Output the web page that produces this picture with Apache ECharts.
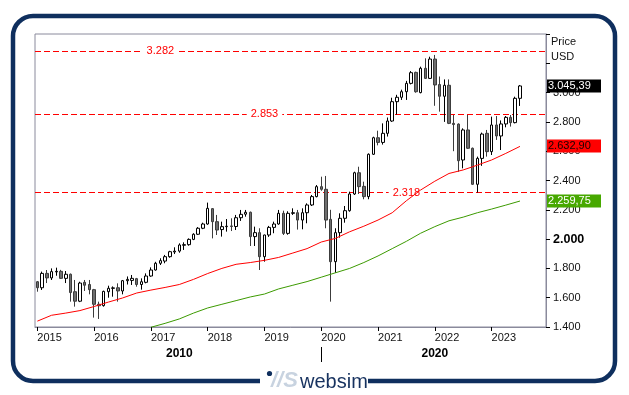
<!DOCTYPE html>
<html><head><meta charset="utf-8">
<script src="https://cdn.jsdelivr.net/npm/echarts@6/dist/echarts.min.js"></script>
<style>html,body{margin:0;padding:0;background:#fff}#c{width:629px;height:395px}</style>
</head><body><div id="c"></div>
<script>
// ---- categories (monthly; last five are empty space on the right) ----
const months = [
 '2015-01','2015-02','2015-03','2015-04','2015-05','2015-06','2015-07','2015-08','2015-09','2015-10','2015-11','2015-12',
 '2016-01','2016-02','2016-03','2016-04','2016-05','2016-06','2016-07','2016-08','2016-09','2016-10','2016-11','2016-12',
 '2017-01','2017-02','2017-03','2017-04','2017-05','2017-06','2017-07','2017-08','2017-09','2017-10','2017-11','2017-12',
 '2018-01','2018-02','2018-03','2018-04','2018-05','2018-06','2018-07','2018-08','2018-09','2018-10','2018-11','2018-12',
 '2019-01','2019-02','2019-03','2019-04','2019-05','2019-06','2019-07','2019-08','2019-09','2019-10','2019-11','2019-12',
 '2020-01','2020-02','2020-03','2020-04','2020-05','2020-06','2020-07','2020-08','2020-09','2020-10','2020-11','2020-12',
 '2021-01','2021-02','2021-03','2021-04','2021-05','2021-06','2021-07','2021-08','2021-09','2021-10','2021-11','2021-12',
 '2022-01','2022-02','2022-03','2022-04','2022-05','2022-06','2022-07','2022-08','2022-09','2022-10','2022-11','2022-12',
 '2023-01','2023-02','2023-03','2023-04','2023-05','2023-06','2023-07','2023-08','2023-09','2023-10','2023-11','2023-12'
];

// ---- monthly candles (price, USD) ----
const open = [
 1709,1668,1766,1735,1776,1780,1732,1760,1641,1576,1705,1690,
 1655,1555,1546,1641,1664,1668,1646,1716,1718,1730,1690,1705,
 1748,1789,1835,1850,1880,1912,1918,1958,1962,1998,2033,2074,
 2103,2208,2119,2065,2085,2090,2086,2146,2170,2183,2017,2044,
 1880,2028,2080,2103,2176,2039,2176,2180,2130,2180,2233,2290,
 2358,2340,2135,1846,2044,2142,2194,2308,2453,2360,2290,2579,
 2692,2660,2722,2806,2938,2968,3006,3063,3138,3000,3166,3097,
 3229,3055,2975,3050,2790,2785,2540,2745,2620,2374,2551,2722,
 2597,2779,2704,2786,2831,2795,2961
];
const close = [
 1668,1766,1735,1778,1780,1732,1760,1635,1576,1700,1685,1655,
 1555,1545,1643,1664,1667,1646,1716,1725,1732,1690,1709,1748,
 1789,1835,1853,1880,1914,1918,1960,1962,1998,2033,2074,2103,
 2210,2119,2062,2085,2088,2086,2146,2169,2183,2017,2044,1880,
 2028,2080,2103,2176,2039,2176,2180,2130,2180,2233,2290,2358,
 2340,2130,1846,2044,2142,2194,2308,2453,2358,2290,2579,2692,
 2660,2722,2806,2938,2968,3006,3063,3136,3006,3166,3097,3229,
 3052,2975,3050,2790,2782,2535,2745,2620,2374,2551,2717,2597,
 2779,2704,2786,2831,2795,2961,3045.39
];
const low = [
 1641,1653,1700,1721,1750,1728,1700,1573,1539,1570,1646,1623,
 1464,1455,1539,1600,1607,1573,1623,1690,1687,1675,1655,1698,
 1743,1785,1823,1835,1873,1898,1907,1926,1955,1993,2028,2068,
 2098,2005,2028,2017,2051,2055,2062,2124,2153,1953,1953,1789,
 1846,2015,2040,2098,2028,2030,2165,2065,2067,2108,2226,2285,
 2330,2074,1573,1770,2010,2112,2187,2301,2308,2272,2272,2574,
 2640,2645,2700,2800,2850,2950,2950,3056,2999,2995,3093,3093,
 2910,2870,2800,2785,2600,2460,2483,2615,2370,2318,2500,2563,
 2574,2677,2608,2763,2768,2790,2909
];
const high = [
 1714,1778,1789,1800,1805,1790,1782,1765,1721,1709,1721,1721,
 1660,1573,1648,1682,1677,1698,1721,1745,1755,1735,1732,1766,
 1807,1845,1869,1892,1920,1944,1971,1978,2005,2040,2082,2112,
 2249,2212,2165,2119,2137,2142,2165,2199,2199,2188,2085,2074,
 2030,2090,2119,2199,2194,2190,2210,2199,2210,2244,2301,2369,
 2426,2431,2200,2074,2176,2226,2324,2460,2494,2392,2585,2699,
 2740,2790,2830,2965,2985,3020,3080,3147,3143,3177,3234,3245,
 3257,3110,3090,3090,2847,2790,2756,2847,2625,2563,2727,2745,
 2836,2840,2810,2840,2847,2972,3052
];

// ---- moving averages ----
const redMaDates = ['2015-01','2015-04','2015-07','2015-10','2016-01','2016-04','2016-07','2016-10','2017-01','2017-04','2017-07','2017-10',
 '2018-01','2018-04','2018-07','2018-10','2019-01','2019-04','2019-07','2019-10','2020-01','2020-04','2020-07','2020-10',
 '2021-01','2021-04','2021-07','2021-10','2022-01','2022-04','2022-07','2022-10','2023-01','2023-04','2023-07'];
const redMaValues = [1440,1480,1495,1512,1540,1570,1598,1632,1652,1670,1690,1725,
 1765,1800,1828,1840,1855,1875,1905,1935,1980,2005,2050,2088,
 2130,2180,2262,2335,2395,2448,2472,2505,2540,2585,2632.90];
const greenMaDates = ['2017-01','2017-04','2017-07','2017-10','2018-01','2018-04','2018-07','2018-10','2019-01','2019-04','2019-07','2019-10',
 '2020-01','2020-04','2020-07','2020-10','2021-01','2021-04','2021-07','2021-10','2022-01','2022-04','2022-07','2022-10','2023-01','2023-04','2023-07'];
const greenMaValues = [1398,1425,1455,1495,1530,1555,1580,1605,1625,1660,1685,1710,
 1740,1770,1800,1840,1885,1935,1985,2040,2085,2125,2150,2180,2205,2232,2259.75];

// ---- horizontal levels ----
const levelValues = [3282, 2853, 2318];
const levelLabelMonths = ['2017-03', '2019-01', '2021-07'];

// ---- y axis ----
const yMin = 1400, yMax = 3400, yStep = 200;
const yHiddenFrom = 3200;
const yBoldTick = 2000;

function fmt(v, dec) {
  const s = v.toFixed(dec);
  const parts = s.split('.');
  const int = parts[0].replace(/\B(?=(\d{3})+(?!\d))/g, '.');
  return parts.length > 1 ? int + ',' + parts[1] : int;
}

const FONT = 'Liberation Sans, Arial, sans-serif';
const NAVY = '#0f2f5e';

// decade grouping for 2nd row of x labels
const decadeSpans = [];
months.forEach((m, i) => {
  const d = Math.floor(parseInt(m.slice(0, 4)) / 10) * 10;
  const last = decadeSpans[decadeSpans.length - 1];
  if (last && last.d === d) last.end = i; else decadeSpans.push({ d, start: i, end: i });
});
const decadeLabelIdx = {};
decadeSpans.forEach(s => { decadeLabelIdx[Math.round((s.start + s.end) / 2)] = String(s.d); });
const decadeTickIdx = decadeSpans.filter(s => s.start > 0).map(s => s.start);

const candleData = open.map((o, i) => [o, close[i], low[i], high[i]]);

const chart = echarts.init(document.getElementById('c'), null, { renderer: 'canvas' });
chart.setOption({
  animation: false,
  backgroundColor: '#fff',
  textStyle: { fontFamily: FONT },
  grid: { left: 35, top: 34, width: 511, height: 293, show: true, borderColor: '#8a8a9c', borderWidth: 1 },
  xAxis: [{
    type: 'category', data: months, boundaryGap: true, gridIndex: 0,
    axisLine: { show: true, lineStyle: { color: '#8a8a9c' } },
    axisTick: { show: true, alignWithLabel: true, length: 4, interval: i => i % 12 === 0, lineStyle: { color: '#000' } },
    axisLabel: { interval: i => i % 12 === 0, formatter: v => v.slice(0, 4), align: 'left', fontSize: 11, color: '#111', margin: 5, fontFamily: FONT },
    splitLine: { show: false }
  }, {
    type: 'category', data: months, boundaryGap: true, gridIndex: 0, position: 'bottom', offset: 20,
    axisLine: { show: false },
    axisTick: { show: true, alignWithLabel: true, length: 15, interval: i => decadeTickIdx.indexOf(i) >= 0, lineStyle: { color: '#000' } },
    axisLabel: { interval: i => decadeLabelIdx[i] !== undefined, formatter: (v, i) => decadeLabelIdx[i] || '', fontSize: 12, fontWeight: 'bold', color: '#000', margin: 1, fontFamily: FONT },
    splitLine: { show: false }
  }],
  yAxis: {
    type: 'value', position: 'right', min: yMin, max: yMax, interval: yStep, scale: true,
    axisLine: { show: true, lineStyle: { color: '#8a8a9c' } },
    axisTick: { show: true, length: 4, lineStyle: { color: '#000' } },
    splitLine: { show: false },
    axisLabel: {
      margin: 7, fontSize: 11, color: '#111', fontFamily: FONT,
      formatter: v => v >= yHiddenFrom ? '' : (v === yBoldTick ? '{b|' + fmt(v, 0) + '}' : fmt(v, 0)),
      rich: { b: { fontWeight: 'bold', fontSize: 12.5, color: '#000', fontFamily: FONT } }
    }
  },
  series: [{
    type: 'candlestick', name: 'Price', z: 2, xAxisIndex: 0,
    data: candleData, barWidth: 3,
    itemStyle: { color: '#ffffff', color0: '#6e6e6e', borderColor: '#000000', borderColor0: '#3c3c3c', borderWidth: 1 },
    markLine: {
      silent: true, symbol: ['none', 'none'], z: 1,
      label: { show: false },
      lineStyle: { color: '#ff0000', type: [6, 3], width: 1, opacity: 1 },
      data: levelValues.map(v => ({ yAxis: v }))
    },
    markPoint: {
      silent: true, symbol: 'rect', symbolSize: 0, z: 3,
      label: { show: true, position: 'inside', color: '#ff0000', fontSize: 11, backgroundColor: '#fff', padding: [1, 4], fontFamily: FONT,
        formatter: p => fmt(p.data.coord[1], 0) },
      data: levelValues.map((v, k) => ({ coord: [levelLabelMonths[k], v] }))
    }
  }, {
    type: 'line', name: 'MA red', z: 4, data: redMaDates.map((d, i) => [d, redMaValues[i]]),
    showSymbol: false, lineStyle: { color: '#ff0000', width: 1 }, clip: true, silent: true
  }, {
    type: 'line', name: 'MA green', z: 4, data: greenMaDates.map((d, i) => [d, greenMaValues[i]]),
    showSymbol: false, lineStyle: { color: '#3c9a00', width: 1 }, clip: true, silent: true
  }]
});

// value boxes on the price axis
const boxes = [
  { v: close[close.length - 1], fill: '#000000', text: '#ffffff' },
  { v: redMaValues[redMaValues.length - 1], fill: '#ff0000', text: '#1a0000' },
  { v: greenMaValues[greenMaValues.length - 1], fill: '#47a800', text: '#ffffff' }
];
const gfx = [
  { type: 'rect', shape: { x: 13, y: 16, width: 602, height: 365, r: 20 }, style: { fill: 'none', stroke: NAVY, lineWidth: 4.5 }, z: 10 },
  { type: 'rect', shape: { x: 260, y: 374, width: 108, height: 14 }, style: { fill: '#fff' }, z: 11 },
  { type: 'circle', shape: { cx: 269.5, cy: 373.5, r: 2.6 }, style: { fill: NAVY }, z: 12 },
  { type: 'text', x: 271, y: 381, style: { text: '//S', font: 'italic bold 22px ' + FONT, fill: '#c8d3e0', textVerticalAlign: 'middle' }, z: 12 },
  { type: 'text', x: 300, y: 382, style: { text: 'websim', font: '20px ' + FONT, fill: '#17325f', textVerticalAlign: 'middle' }, z: 12 },
  { type: 'text', x: 551, y: 42, style: { text: 'Price', font: '11px ' + FONT, fill: '#111', textVerticalAlign: 'middle' }, z: 12 },
  { type: 'text', x: 551, y: 57, style: { text: 'USD', font: '11px ' + FONT, fill: '#111', textVerticalAlign: 'middle' }, z: 12 }
];
boxes.forEach(b => {
  const y = chart.convertToPixel({ yAxisIndex: 0 }, b.v);
  gfx.push({ type: 'rect', shape: { x: 547, y: Math.round(y) - 6.5, width: 54, height: 13 }, style: { fill: b.fill }, z: 12 });
  gfx.push({ type: 'text', x: 548, y: Math.round(y), style: { text: fmt(b.v, 2), font: '11px ' + FONT, fill: b.text, textVerticalAlign: 'middle' }, z: 13 });
});
chart.setOption({ graphic: gfx });
</script></body></html>
